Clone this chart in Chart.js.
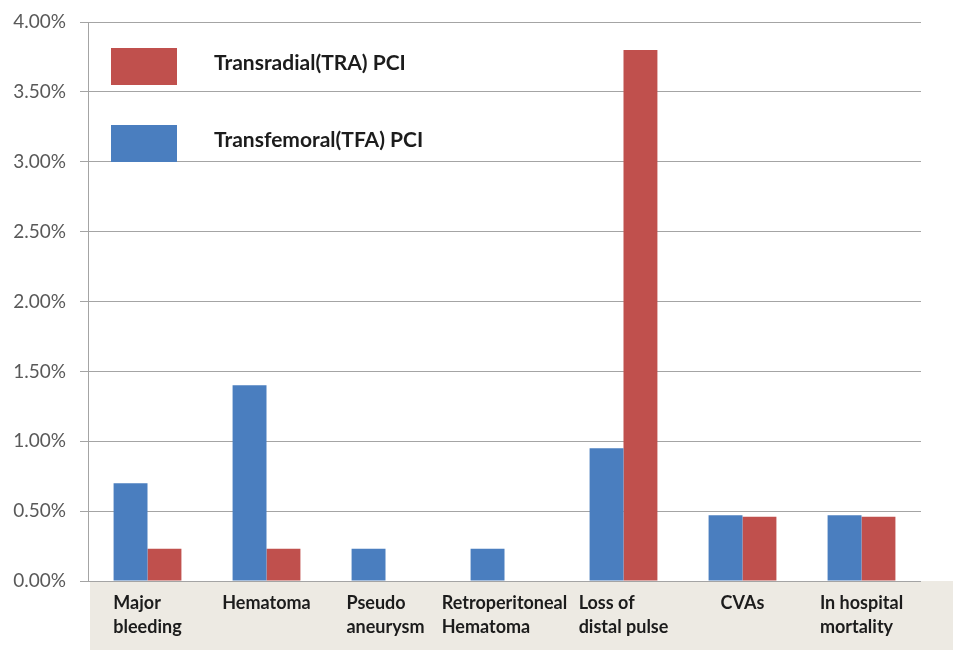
<!DOCTYPE html>
<html>
<head>
<meta charset="utf-8">
<title>Complications: TRA vs TFA PCI</title>
<script src="https://cdn.jsdelivr.net/npm/chart.js@4/dist/chart.umd.min.js"></script>
<style>
  html, body { margin: 0; padding: 0; background: #ffffff; }
  #wrap { width: 953px; height: 650px; position: relative; }
</style>
</head>
<body>
<div id="wrap"><canvas id="chart"></canvas></div>
<script>
// Complication categories (each entry is the lines of its axis label)
const categories = [
  ["Major", "bleeding"],
  ["Hematoma"],
  ["Pseudo", "aneurysm"],
  ["Retroperitoneal", "Hematoma"],
  ["Loss of", "distal pulse"],
  ["CVAs"],
  ["In hospital", "mortality"]
];

// Rates in percent
const tfaValues = [0.70, 1.40, 0.23, 0.23, 0.95, 0.47, 0.47];
const traValues = [0.23, 0.23, 0, 0, 3.80, 0.46, 0.46];

const seriesNames = ["Transfemoral(TFA) PCI", "Transradial(TRA) PCI"];

// Y axis tick values (percent)
const yTicks = [0, 0.5, 1, 1.5, 2, 2.5, 3, 3.5, 4];

const BLUE = "#4a7ebf";
const RED = "#c0504d";
const GRID = "#a4a4a4";
const BAND = "#edeae3";
const FONT = "Lato, 'Open Sans', sans-serif";

// Beige band under the category axis
const bandPlugin = {
  id: "band",
  beforeDraw(chart) {
    const { ctx, chartArea, width, height } = chart;
    ctx.save();
    ctx.fillStyle = BAND;
    ctx.fillRect(chartArea.left + 2, chartArea.bottom, width - chartArea.left - 2, height - chartArea.bottom);
    ctx.restore();
  }
};

// Category labels: each label block centred on its category, lines left-aligned
const categoryLabelPlugin = {
  id: "categoryLabels",
  afterDraw(chart) {
    const { ctx, chartArea } = chart;
    const xs = chart.scales.x;
    ctx.save();
    ctx.font = "bold 18px " + FONT;
    ctx.fillStyle = "#1c1c1c";
    ctx.textAlign = "left";
    ctx.textBaseline = "middle";
    chart.data.labels.forEach((lines, i) => {
      const cx = xs.getPixelForTick(i);
      const w = Math.max(...lines.map(l => ctx.measureText(l).width));
      const x0 = cx - w / 2;
      lines.forEach((l, j) => {
        ctx.fillText(l, x0, chartArea.bottom + 22 + j * 24);
      });
    });
    ctx.restore();
  }
};

// Legend drawn inside the plot area, TRA first
const insideLegendPlugin = {
  id: "insideLegend",
  afterDatasetsDraw(chart) {
    const { ctx, chartArea } = chart;
    const items = chart.data.datasets.slice().reverse();
    ctx.save();
    ctx.font = "bold 21px " + FONT;
    ctx.textBaseline = "middle";
    ctx.textAlign = "left";
    items.forEach((ds, i) => {
      const top = chartArea.top + 26 + i * 77;
      ctx.fillStyle = ds.backgroundColor;
      ctx.fillRect(chartArea.left + 23, top, 66, 37);
      ctx.fillStyle = "#1c1c1c";
      ctx.fillText(ds.label, chartArea.left + 126, top + 15);
    });
    ctx.restore();
  }
};

new Chart(document.getElementById("chart"), {
  type: "bar",
  data: {
    labels: categories,
    datasets: [
      { label: seriesNames[0], data: tfaValues, backgroundColor: BLUE, borderWidth: 0 },
      { label: seriesNames[1], data: traValues, backgroundColor: RED, borderWidth: 0 }
    ]
  },
  options: {
    responsive: true,
    maintainAspectRatio: false,
    animation: false,
    layout: { padding: { top: 22, right: 32, left: 0, bottom: 0 } },
    plugins: {
      legend: { display: false },
      tooltip: { enabled: false }
    },
    datasets: {
      bar: { categoryPercentage: 0.57, barPercentage: 1.0 }
    },
    scales: {
      x: {
        grid: { display: false, drawTicks: false },
        border: { display: false },
        ticks: { display: false },
        afterFit(scale) { scale.height = 69; }
      },
      y: {
        min: 0,
        max: 4,
        afterBuildTicks(scale) { scale.ticks = yTicks.map(v => ({ value: v })); },
        afterFit(scale) {
          scale.width = 88;
          scale.paddingTop = 0;
          scale.paddingBottom = 0;
        },
        grid: { color: GRID, lineWidth: 1, drawTicks: true, tickLength: 8, tickColor: GRID },
        border: { display: true, color: GRID, width: 1 },
        ticks: {
          padding: 14,
          color: "#595959",
          font: { family: FONT, size: 19 },
          callback: v => v.toFixed(2) + "%"
        }
      }
    }
  },
  plugins: [bandPlugin, categoryLabelPlugin, insideLegendPlugin]
});
</script>
</body>
</html>
